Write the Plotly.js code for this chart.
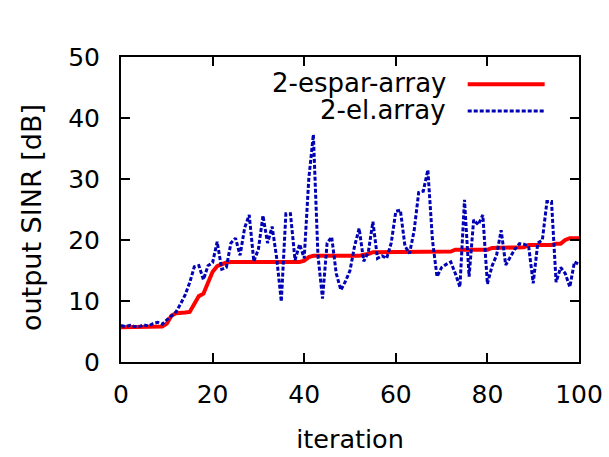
<!DOCTYPE html>
<html>
<head>
<meta charset="utf-8">
<script src="https://cdn.plot.ly/plotly-3.0.1.min.js"></script>
<style>html,body{margin:0;padding:0;background:#fff;}#chart{width:609px;height:457px;}</style>
</head>
<body>
<div id="chart"></div>
<script>
// iterations
const iterations = Array.from({length: 101}, (_, i) => i);

// 2-espar-array (red, solid)
const esparArray = [
  5.7, 5.7, 5.7, 5.7, 5.7, 5.7, 5.7, 5.7, 5.7, 5.8,
  6.3, 7.6, 8.0, 8.0, 8.1, 8.2, 9.5, 10.8, 11.2, 13.0,
  14.8, 15.7, 16.0, 16.3, 16.4, 16.4, 16.4, 16.4, 16.4, 16.4,
  16.4, 16.4, 16.4, 16.4, 16.4, 16.4, 16.4, 16.4, 16.4, 16.4,
  16.6, 17.2, 17.4, 17.4, 17.4, 17.4, 17.4, 17.4, 17.4, 17.4,
  17.4, 17.4, 17.4, 17.6, 17.7, 18.0, 18.0, 18.0, 18.0, 18.0,
  18.0, 18.0, 18.0, 18.0, 18.0, 18.0, 18.0, 18.0, 18.0, 18.0,
  18.1, 18.1, 18.1, 18.4, 18.4, 18.4, 18.4, 18.4, 18.4, 18.4,
  18.4, 18.7, 18.7, 18.7, 18.7, 18.7, 18.7, 18.7, 18.8, 19.2,
  19.2, 19.2, 19.2, 19.2, 19.2, 19.4, 19.4, 20.0, 20.3, 20.3,
  20.3
];

// 2-el.array (blue, dotted)
const elArray = [
  6.0, 5.8, 6.0, 5.8, 5.8, 6.1, 5.9, 6.3, 6.5, 6.2,
  6.9, 7.6, 8.2, 9.5, 11.0, 13.0, 15.6, 15.8, 13.5, 15.8,
  16.3, 19.7, 15.2, 15.5, 19.5, 20.3, 17.5, 22.0, 24.1, 16.5,
  18.5, 24.0, 19.5, 22.2, 17.0, 9.9, 24.3, 24.3, 16.7, 19.3,
  17.0, 30.0, 37.3, 17.5, 10.4, 19.5, 20.5, 14.5, 11.8, 13.2,
  15.0, 19.0, 21.9, 16.5, 18.0, 23.0, 17.0, 17.4, 17.0, 19.5,
  24.7, 24.9, 19.0, 17.8, 21.5, 27.8, 28.0, 31.5, 20.0, 14.0,
  15.5, 16.0, 16.4, 14.5, 12.3, 26.6, 14.0, 23.3, 22.5, 24.1,
  12.8, 15.7, 17.5, 21.6, 15.9, 17.2, 18.5, 19.4, 19.3, 19.0,
  12.9, 19.5, 20.0, 26.3, 26.3, 13.1, 15.5, 14.5, 12.3, 16.4,
  16.0
];

const seriesNames = ["2-espar-array", "2-el.array"];
const xTicks = [0, 20, 40, 60, 80, 100];
const yTicks = [0, 10, 20, 30, 40, 50];
const xTitle = "iteration";
const yTitle = "output SINR [dB]";

const RED = "#ff0000";
const BLUE = "#0000b4";
const FONT = "DejaVu Sans, sans-serif";

const traces = [
  {x: iterations, y: esparArray, name: seriesNames[0], mode: "lines",
   line: {color: RED, width: 4}, showlegend: false},
  {x: iterations, y: elArray, name: seriesNames[1], mode: "lines",
   line: {color: BLUE, width: 3, dash: "4px,2px"}, showlegend: false}
];

const axisCommon = {
  showgrid: false, zeroline: false, showline: true, mirror: "ticks",
  linecolor: "#000", linewidth: 2, ticks: "inside", ticklen: 9, tickwidth: 2,
  tickcolor: "#000", tickfont: {family: FONT, size: 25, color: "#000"}
};

const layout = {
  width: 609, height: 457,
  margin: {l: 121, r: 30, t: 57, b: 95},
  paper_bgcolor: "#fff", plot_bgcolor: "#fff",
  xaxis: Object.assign({}, axisCommon, {
    range: [0, 100], tickvals: xTicks, ticktext: xTicks.map(String),
    ticklabelstandoff: 9,
    title: {text: xTitle, font: {family: FONT, size: 25.5, color: "#000"}, standoff: 22}
  }),
  yaxis: Object.assign({}, axisCommon, {
    range: [0, 50], tickvals: yTicks, ticktext: yTicks.map(String),
    ticklabelstandoff: 14
  }),
  annotations: [
    {xref: "paper", yref: "paper", x: -0.1965, y: 0.472, xanchor: "center", yanchor: "middle",
     textangle: -90, text: yTitle, showarrow: false, font: {family: FONT, size: 27, color: "#000"}},
    {xref: "paper", yref: "paper", x: 0.714, y: 0.914, xanchor: "right", yanchor: "middle",
     text: seriesNames[0], showarrow: false, font: {family: FONT, size: 26, color: "#000"}},
    {xref: "paper", yref: "paper", x: 0.714, y: 0.826, xanchor: "right", yanchor: "middle",
     text: seriesNames[1], showarrow: false, font: {family: FONT, size: 26, color: "#000"}}
  ],
  shapes: [
    {type: "line", xref: "paper", yref: "paper", x0: 0.757, x1: 0.925, y0: 0.911, y1: 0.911,
     line: {color: RED, width: 4}},
    {type: "line", xref: "paper", yref: "paper", x0: 0.757, x1: 0.925, y0: 0.823, y1: 0.823,
     line: {color: BLUE, width: 3, dash: "4px,2px"}}
  ]
};

Plotly.newPlot("chart", traces, layout, {displayModeBar: false, staticPlot: true});
</script>
</body>
</html>
